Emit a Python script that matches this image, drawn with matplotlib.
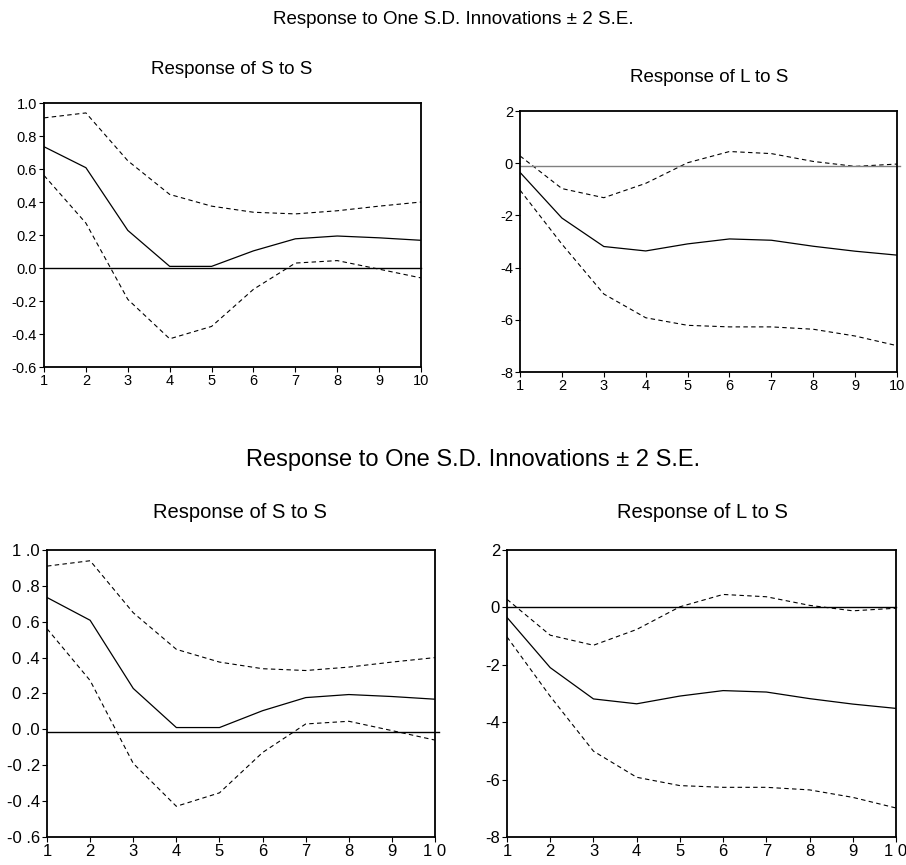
import matplotlib.pyplot as plt
import numpy as np

plt.rcParams['font.family'] = ['Liberation Sans', 'DejaVu Sans']

periods = np.arange(1, 11)

# Response of S to S
s_mid = [0.735, 0.608, 0.228, 0.01, 0.01, 0.104, 0.177, 0.194, 0.183, 0.168]
s_hi = [0.91, 0.94, 0.65, 0.446, 0.375, 0.338, 0.328, 0.347, 0.375, 0.40]
s_lo = [0.561, 0.272, -0.19, -0.429, -0.354, -0.129, 0.03, 0.045, -0.007, -0.06]

# Response of L to S
l_mid = [-0.35, -2.1, -3.19, -3.36, -3.09, -2.9, -2.95, -3.18, -3.37, -3.52]
l_hi = [0.28, -0.97, -1.32, -0.77, 0.02, 0.45, 0.37, 0.07, -0.12, -0.03]
l_lo = [-1.03, -3.1, -5.01, -5.92, -6.21, -6.27, -6.27, -6.36, -6.62, -6.99]

main_title = 'Response to One S.D. Innovations \u00b1 2 S.E.'
s_ticks = [-0.6, -0.4, -0.2, 0.0, 0.2, 0.4, 0.6, 0.8, 1.0]
l_ticks = [-8, -6, -4, -2, 0, 2]


def draw_panel(ax, mid, lo, hi, ylim, yticks, ylabels, xlabels, fs,
               zero_y=0.0, zero_color='black', zero_ext=1.0):
    ax.plot(periods, mid, color='black', lw=0.9)
    ax.plot(periods, hi, color='black', lw=0.8, dashes=(4, 3))
    ax.plot(periods, lo, color='black', lw=0.8, dashes=(4, 3))
    ax.axhline(zero_y, xmin=0, xmax=zero_ext, color=zero_color, lw=1.0,
               clip_on=False)
    ax.set_xlim(1, 10)
    ax.set_ylim(*ylim)
    ax.set_xticks(periods)
    ax.set_xticklabels(xlabels)
    ax.set_yticks(yticks)
    ax.set_yticklabels(ylabels)
    ax.tick_params(direction='out', length=3.5, width=0.8, labelsize=fs,
                   pad=1.5, top=False, right=False)
    for sp in ax.spines.values():
        sp.set_linewidth(1.3)


fig = plt.figure(figsize=(9.06, 8.65), dpi=100)

# --- upper copy ---
fig.text(453 / 906, 1 - 20 / 865, main_title, ha='center', va='center',
         fontsize=13.5)

ax1 = fig.add_axes([0.0486, 0.5757, 0.4161, 0.3052])
draw_panel(ax1, s_mid, s_lo, s_hi, (-0.6, 1.0), s_ticks,
           [f'{t:.1f}' for t in s_ticks], [str(p) for p in periods], 10.5)
fig.text(232 / 906, 1 - 70 / 865, 'Response of S to S', ha='center',
         va='center', fontsize=13.5)

ax2 = fig.add_axes([0.574, 0.5699, 0.4161, 0.3017])
draw_panel(ax2, l_mid, l_lo, l_hi, (-8, 2), l_ticks,
           [str(t) for t in l_ticks], [str(p) for p in periods], 10.5,
           zero_y=-0.12, zero_color='#808080', zero_ext=1.008)
fig.text(709 / 906, 1 - 77 / 865, 'Response of L to S', ha='center',
         va='center', fontsize=13.5)

# --- lower copy ---
fig.text(473 / 906, 1 - 460 / 865, main_title, ha='center', va='center',
         fontsize=17)

spaced_x = [str(p) for p in periods[:-1]] + ['1 0']
ax3 = fig.add_axes([0.0519, 0.0324, 0.4283, 0.3318])
draw_panel(ax3, s_mid, s_lo, s_hi, (-0.6, 1.0), s_ticks,
           [f'{t:.1f}'.replace('.', ' .') for t in s_ticks], spaced_x, 12,
           zero_y=-0.015, zero_ext=1.01)
fig.text(240 / 906, 1 - 513 / 865, 'Response of S to S', ha='center',
         va='center', fontsize=14.5)

ax4 = fig.add_axes([0.5596, 0.0324, 0.4294, 0.3318])
draw_panel(ax4, l_mid, l_lo, l_hi, (-8, 2), l_ticks,
           [str(t) for t in l_ticks], spaced_x, 12)
fig.text(702 / 906, 1 - 513 / 865, 'Response of L to S', ha='center',
         va='center', fontsize=14.5)

fig.savefig('out.png', dpi=100)
